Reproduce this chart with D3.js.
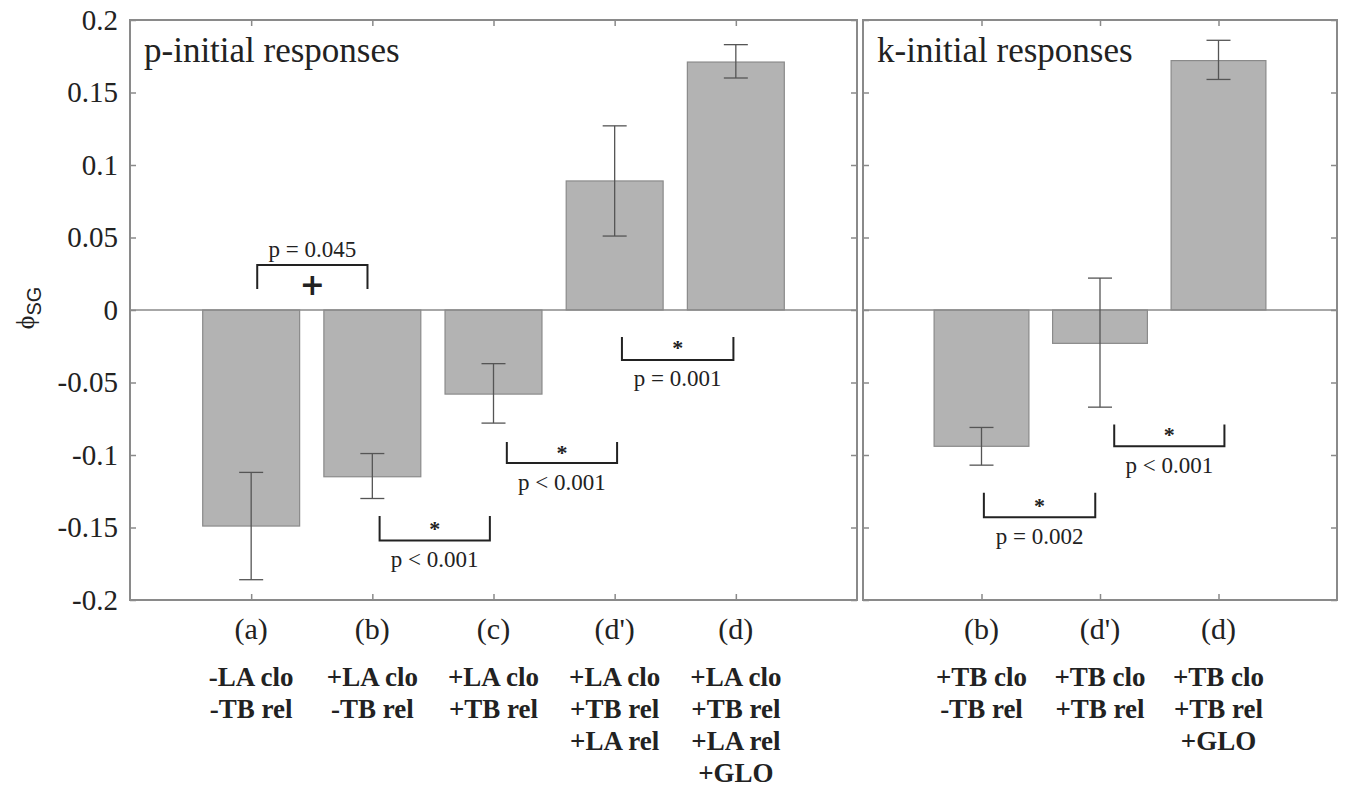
<!DOCTYPE html>
<html>
<head>
  <meta charset="utf-8">
  <title>phi SG bar chart</title>
  <script src="https://d3js.org/d3.v7.min.js"></script>
  <style>
    body { margin: 0; background: #fff; }
    text { font-family: "Liberation Serif", "Times New Roman", serif; fill: #222; }
  </style>
</head>
<body>
<script>

// ---- data ----
var yTicks = [0.2, 0.15, 0.1, 0.05, 0, -0.05, -0.1, -0.15, -0.2];

var leftCats = ["(a)", "(b)", "(c)", "(d')", "(d)"];
var leftConds = [["-LA clo", "-TB rel"], ["+LA clo", "-TB rel"], ["+LA clo", "+TB rel"],
                 ["+LA clo", "+TB rel", "+LA rel"], ["+LA clo", "+TB rel", "+LA rel", "+GLO"]];
var leftVals = [-0.149, -0.115, -0.058, 0.089, 0.171];
var leftHi = [-0.112, -0.099, -0.037, 0.127, 0.183];
var leftLo = [-0.186, -0.130, -0.078, 0.051, 0.160];

var rightCats = ["(b)", "(d')", "(d)"];
var rightConds = [["+TB clo", "-TB rel"], ["+TB clo", "+TB rel"], ["+TB clo", "+TB rel", "+GLO"]];
var rightVals = [-0.094, -0.023, 0.172];
var rightHi = [-0.081, 0.022, 0.186];
var rightLo = [-0.107, -0.067, 0.159];

// significance brackets (category units / phi units)
var leftSig = [
  {x0: 1.05, x1: 1.96, line: 0.031, leg: 0.0145, mark: "+", markY: 0.0175, label: "p = 0.045", labelY: 0.042},
  {x0: 2.06, x1: 2.97, line: -0.159, leg: -0.142, mark: "*", markY: -0.151, label: "p < 0.001", labelY: -0.172},
  {x0: 3.11, x1: 4.02, line: -0.1055, leg: -0.091, mark: "*", markY: -0.098, label: "p < 0.001", labelY: -0.119},
  {x0: 4.06, x1: 4.98, line: -0.0345, leg: -0.0186, mark: "*", markY: -0.026, label: "p = 0.001", labelY: -0.0475}
];
var rightSig = [
  {x0: 1.02, x1: 1.96, line: -0.143, leg: -0.126, mark: "*", markY: -0.135, label: "p = 0.002", labelY: -0.156},
  {x0: 2.12, x1: 3.05, line: -0.094, leg: -0.079, mark: "*", markY: -0.086, label: "p < 0.001", labelY: -0.107}
];

var W = 1345, H = 787;
var plotTop = 20, plotBottom = 600;

var svg = d3.select("body").append("svg")
    .attr("width", W)
    .attr("height", H);

var y = d3.scaleLinear().domain([-0.2, 0.2]).range([plotBottom, plotTop]);

function grey(a) {
  a.select(".domain").remove();
  a.selectAll("line").attr("stroke", "#8a8a8a").attr("stroke-width", 1.5);
}

function panel(left, right, cats, conds, vals, hi, lo, sig, title, showY) {
  var x = d3.scaleLinear().domain([0, cats.length + 1]).range([left, right]);
  var idx = d3.range(1, cats.length + 1);
  var bw = (x(1) - x(0)) * 0.8;
  var g = svg.append("g");

  // bars
  g.selectAll(".bar").data(vals).enter().append("rect")
      .attr("x", function(d, i) { return x(i + 1) - bw / 2; })
      .attr("y", function(d) { return y(Math.max(0, d)); })
      .attr("width", bw)
      .attr("height", function(d) { return Math.abs(y(d) - y(0)); })
      .attr("fill", "#b3b3b3")
      .attr("stroke", "#8a8a8a")
      .attr("stroke-width", 1.2);

  // zero line
  g.append("line")
      .attr("x1", left).attr("x2", right)
      .attr("y1", y(0)).attr("y2", y(0))
      .attr("stroke", "#8a8a8a").attr("stroke-width", 1.5);

  // error bars
  var eb = g.selectAll(".err").data(vals).enter().append("g");
  eb.append("line")
      .attr("x1", function(d, i) { return x(i + 1); })
      .attr("x2", function(d, i) { return x(i + 1); })
      .attr("y1", function(d, i) { return y(hi[i]); })
      .attr("y2", function(d, i) { return y(lo[i]); });
  eb.append("line")
      .attr("x1", function(d, i) { return x(i + 1) - 12; })
      .attr("x2", function(d, i) { return x(i + 1) + 12; })
      .attr("y1", function(d, i) { return y(hi[i]); })
      .attr("y2", function(d, i) { return y(hi[i]); });
  eb.append("line")
      .attr("x1", function(d, i) { return x(i + 1) - 12; })
      .attr("x2", function(d, i) { return x(i + 1) + 12; })
      .attr("y1", function(d, i) { return y(lo[i]); })
      .attr("y2", function(d, i) { return y(lo[i]); });
  eb.selectAll("line").attr("stroke", "#555").attr("stroke-width", 1.3);

  // box + ticks
  g.append("rect")
      .attr("x", left).attr("y", plotTop)
      .attr("width", right - left).attr("height", plotBottom - plotTop)
      .attr("fill", "none").attr("stroke", "#8a8a8a").attr("stroke-width", 2);

  g.append("g").attr("transform", "translate(0," + plotBottom + ")")
      .call(d3.axisBottom(x).tickValues(idx).tickSize(-6).tickFormat(""))
      .call(grey);
  g.append("g").attr("transform", "translate(0," + plotTop + ")")
      .call(d3.axisTop(x).tickValues(idx).tickSize(-6).tickFormat(""))
      .call(grey);
  g.append("g").attr("transform", "translate(" + left + ",0)")
      .call(d3.axisLeft(y).tickValues(yTicks).tickSize(-6).tickPadding(12)
        .tickFormat(showY ? function(d) { return d3.format("~g")(d).replace("\u2212", "-"); } : ""))
      .call(grey)
      .call(function(a) {
        a.selectAll("text").attr("font-size", 29).attr("fill", "#222")
          .style("font-family", "'Liberation Serif', serif");
      });
  g.append("g").attr("transform", "translate(" + right + ",0)")
      .call(d3.axisRight(y).tickValues(yTicks).tickSize(-6).tickFormat(""))
      .call(grey);

  // title
  g.append("text")
      .attr("x", left + 14).attr("y", 62)
      .attr("font-size", 35)
      .text(title);

  // category labels
  g.selectAll(".cat").data(cats).enter().append("text")
      .attr("x", function(d, i) { return x(i + 1); })
      .attr("y", 639)
      .attr("text-anchor", "middle")
      .attr("font-size", 30)
      .text(function(d) { return d; });

  var cg = g.selectAll(".cond").data(conds).enter().append("text")
      .attr("text-anchor", "middle")
      .attr("font-size", 27)
      .attr("font-weight", "bold");
  cg.selectAll("tspan").data(function(d, i) { return d.map(function(s) { return {s: s, i: i}; }); })
    .enter().append("tspan")
      .attr("x", function(d) { return x(d.i + 1); })
      .attr("y", function(d, j) { return 686 + j * 32; })
      .text(function(d) { return d.s; });

  // significance brackets
  var sg = g.selectAll(".sig").data(sig).enter().append("g");
  sg.append("path")
      .attr("d", function(d) {
        return "M" + x(d.x0) + "," + y(d.leg) + "V" + y(d.line) + "H" + x(d.x1) + "V" + y(d.leg);
      })
      .attr("fill", "none").attr("stroke", "#222").attr("stroke-width", 2);
  sg.append("text")
      .attr("x", function(d) { return (x(d.x0) + x(d.x1)) / 2; })
      .attr("y", function(d) { return y(d.markY); })
      .attr("text-anchor", "middle")
      .attr("dominant-baseline", "central")
      .attr("font-size", function(d) { return d.mark === "+" ? 30 : 22; })
      .attr("font-weight", "bold")
      .style("font-family", function(d) { return d.mark === "+" ? "'DejaVu Sans', sans-serif" : null; })
      .text(function(d) { return d.mark; });
  sg.append("text")
      .attr("x", function(d) { return (x(d.x0) + x(d.x1)) / 2; })
      .attr("y", function(d) { return y(d.labelY); })
      .attr("text-anchor", "middle")
      .attr("dominant-baseline", "central")
      .attr("font-size", 23)
      .text(function(d) { return d.label; });
}

panel(130, 857, leftCats, leftConds, leftVals, leftHi, leftLo, leftSig, "p-initial responses", true);
panel(863, 1337, rightCats, rightConds, rightVals, rightHi, rightLo, rightSig, "k-initial responses", false);

// y axis label
var yl = svg.append("text")
    .attr("transform", "translate(34,308) rotate(-90)")
    .attr("text-anchor", "middle")
    .attr("font-size", 26);
yl.append("tspan").text("\u03D5");
yl.append("tspan").attr("font-size", 20).attr("dy", 7)
    .style("font-family", "'Liberation Sans', sans-serif").text("SG");

</script>
</body>
</html>
